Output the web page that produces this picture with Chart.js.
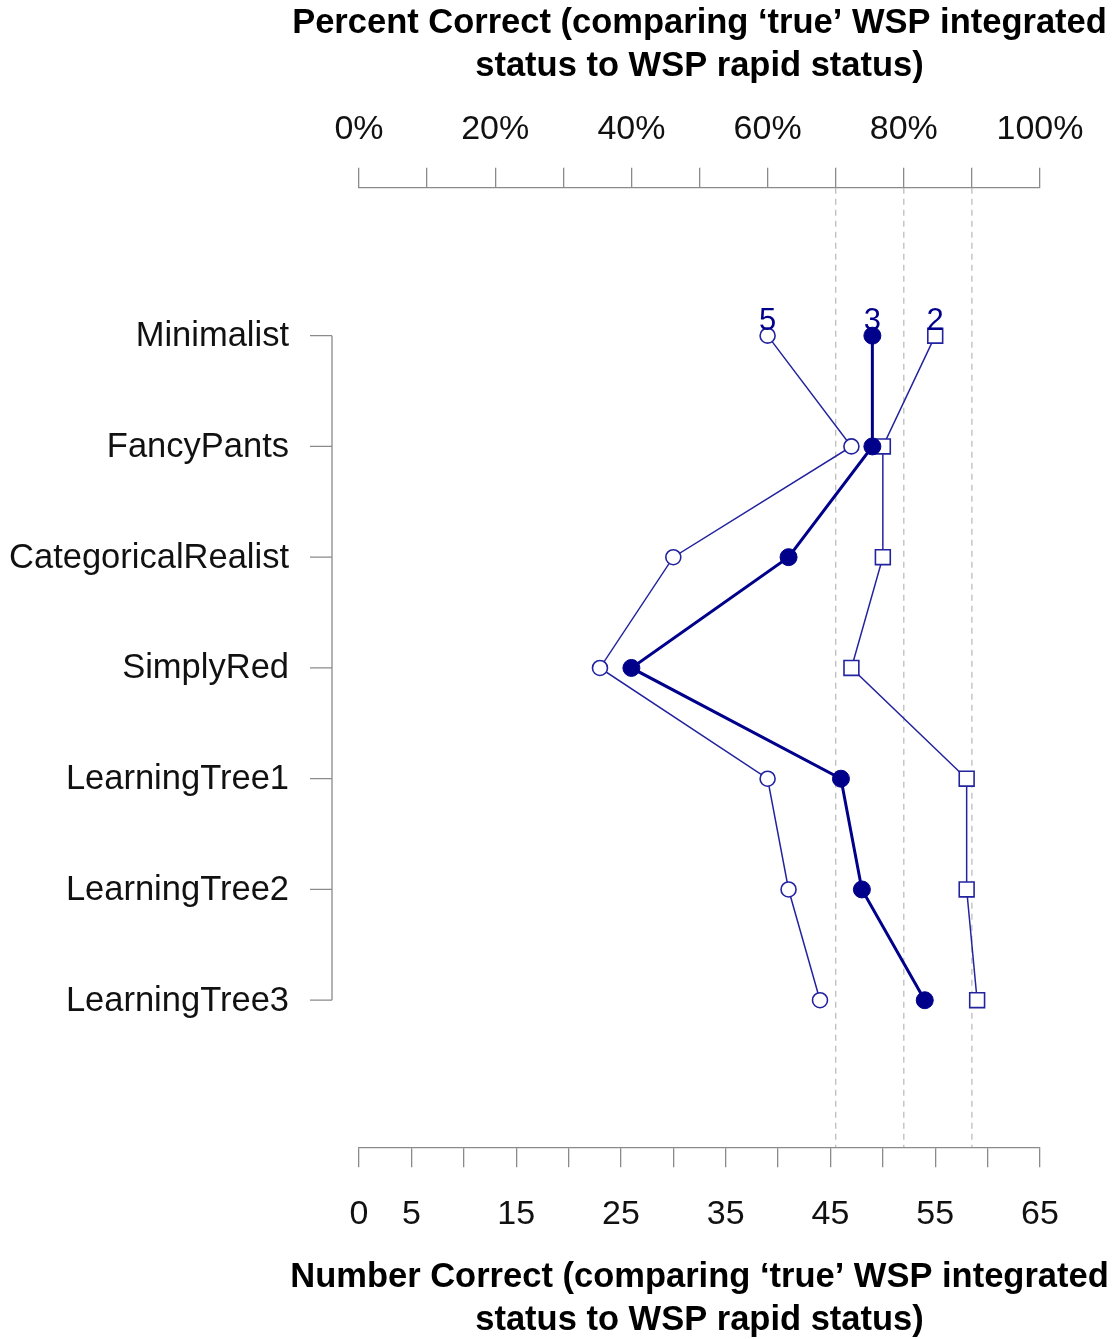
<!DOCTYPE html>
<html>
<head>
<meta charset="utf-8">
<script src="https://cdn.jsdelivr.net/npm/chart.js@4/dist/chart.umd.min.js"></script>
<style>
  html, body { margin: 0; padding: 0; background: #fff; }
  #wrap { width: 1117px; height: 1339px; }
</style>
</head>
<body>
<div id="wrap"><canvas id="chart" width="1117" height="1339"></canvas></div>
<script>
// categories, top to bottom
const categories = ['Minimalist', 'FancyPants', 'CategoricalRealist', 'SimplyRed',
    'LearningTree1', 'LearningTree2', 'LearningTree3'];

// number correct per series (labels shown above the first row)
const seriesLabels = ['3', '5', '2'];
const filledValues = [49, 49, 41, 26, 46, 48, 54];   // "3"
const circleValues = [39, 47, 30, 23, 39, 41, 44];   // "5"
const squareValues = [55, 50, 50, 47, 58, 58, 59];   // "2"

// dashed reference lines in percent of total
const totalCount = 65;
const refPercents = [70, 80, 90];

const topTitle = ['Percent Correct (comparing \u2018true\u2019 WSP integrated', 'status to WSP rapid status)'];
const bottomTitle = ['Number Correct (comparing \u2018true\u2019 WSP integrated', 'status to WSP rapid status)'];

const navy = '#00008B';
const thinBlue = '#2323a0';
const axisGrey = '#8a8a8a';
const fontFamily = '"Liberation Sans", Arial, sans-serif';

Chart.defaults.font.family = fontFamily;
Chart.defaults.color = '#000';

function toPoints(values) {
    return values.map((v, i) => ({ x: v, y: i }));
}

const yMin = -1.335;
const yMax = 7.327;

const refDatasets = refPercents.map(p => ({
    label: 'ref' + p,
    data: [{ x: p / 100 * totalCount, y: yMin }, { x: p / 100 * totalCount, y: yMax }],
    showLine: true,
    borderColor: '#bdbdbd',
    borderWidth: 1.3,
    borderDash: [6, 5],
    pointRadius: 0,
    xAxisID: 'x'
}));

// category axis drawn R-style, offset to the left of the plot
const categoryAxis = {
    id: 'categoryAxis',
    afterDraw(chart) {
        const ctx = chart.ctx;
        const y = chart.scales.y;
        const left = chart.chartArea.left;
        const lineX = left - 27;
        ctx.save();
        ctx.strokeStyle = axisGrey;
        ctx.lineWidth = 1.3;
        ctx.beginPath();
        ctx.moveTo(lineX, y.getPixelForValue(0));
        ctx.lineTo(lineX, y.getPixelForValue(categories.length - 1));
        categories.forEach((c, i) => {
            const py = y.getPixelForValue(i);
            ctx.moveTo(lineX - 22, py);
            ctx.lineTo(lineX, py);
        });
        ctx.stroke();
        ctx.fillStyle = '#111';
        ctx.font = '34.5px ' + fontFamily;
        ctx.textAlign = 'right';
        ctx.textBaseline = 'middle';
        categories.forEach((c, i) => {
            ctx.fillText(c, lineX - 43, y.getPixelForValue(i) + 1);
        });
        ctx.restore();
    }
};

// axis titles, wider than the plot so drawn here without squeezing
const axisTitles = {
    id: 'axisTitles',
    afterDraw(chart) {
        const ctx = chart.ctx;
        const area = chart.chartArea;
        const cx = (area.left + area.right) / 2;
        ctx.save();
        ctx.fillStyle = '#000';
        ctx.font = 'bold 34.5px ' + fontFamily;
        ctx.textAlign = 'center';
        ctx.textBaseline = 'middle';
        topTitle.forEach((t, i) => ctx.fillText(t, cx, area.top - 164 + i * 43));
        bottomTitle.forEach((t, i) => ctx.fillText(t, cx, area.bottom + 130 + i * 43));
        ctx.restore();
    }
};

// series labels above the first category
const seriesTags = {
    id: 'seriesTags',
    afterDatasetsDraw(chart) {
        const ctx = chart.ctx;
        const x = chart.scales.x;
        const y = chart.scales.y;
        const firsts = [filledValues[0], circleValues[0], squareValues[0]];
        ctx.save();
        ctx.fillStyle = navy;
        ctx.font = '31px ' + fontFamily;
        ctx.textAlign = 'center';
        ctx.textBaseline = 'alphabetic';
        firsts.forEach((v, i) => {
            ctx.fillText(seriesLabels[i], x.getPixelForValue(v), y.getPixelForValue(0) - 6);
        });
        ctx.restore();
    }
};

new Chart(document.getElementById('chart').getContext('2d'), {
    type: 'scatter',
    data: {
        datasets: [
            {
                label: '3',
                data: toPoints(filledValues),
                showLine: true,
                borderColor: navy,
                borderWidth: 3,
                pointStyle: 'circle',
                pointRadius: 8.5,
                pointBackgroundColor: navy,
                pointBorderColor: navy,
                pointBorderWidth: 1
            },
            {
                label: '2',
                data: toPoints(squareValues),
                showLine: true,
                borderColor: thinBlue,
                borderWidth: 1.5,
                pointStyle: 'rect',
                pointRadius: 10.5,
                pointBackgroundColor: '#fff',
                pointBorderColor: thinBlue,
                pointBorderWidth: 1.6
            },
            {
                label: '5',
                data: toPoints(circleValues),
                showLine: true,
                borderColor: thinBlue,
                borderWidth: 1.5,
                pointStyle: 'circle',
                pointRadius: 7.5,
                pointBackgroundColor: '#fff',
                pointBorderColor: thinBlue,
                pointBorderWidth: 1.6
            },
            ...refDatasets
        ]
    },
    options: {
        responsive: false,
        animation: false,
        devicePixelRatio: 1,
        layout: { padding: { left: 359, right: 77, top: 91, bottom: 77 } },
        plugins: {
            legend: { display: false },
            tooltip: { enabled: false }
        },
        scales: {
            x: {
                type: 'linear',
                position: 'bottom',
                min: 0,
                max: totalCount,
                grid: { display: true, drawOnChartArea: false, drawTicks: true, tickLength: 20, color: axisGrey, lineWidth: 1.3 },
                border: { display: true, color: axisGrey, width: 1.3 },
                ticks: {
                    stepSize: 5,
                    autoSkip: false,
                    maxRotation: 0,
                    padding: 27,
                    color: '#111',
                    font: { size: 34 },
                    callback: v => (v === 0 || v % 10 === 5) ? String(v) : ''
                }
            },
            x2: {
                type: 'linear',
                position: 'top',
                min: 0,
                max: 100,
                grid: { display: true, drawOnChartArea: false, drawTicks: true, tickLength: 20, color: axisGrey, lineWidth: 1.3 },
                border: { display: true, color: axisGrey, width: 1.3 },
                ticks: {
                    stepSize: 10,
                    autoSkip: false,
                    maxRotation: 0,
                    padding: 18,
                    color: '#111',
                    font: { size: 34 },
                    callback: v => (v % 20 === 0) ? v + '%' : ''
                }
            },
            y: {
                type: 'linear',
                reverse: true,
                min: yMin,
                max: yMax,
                display: false
            }
        }
    },
    plugins: [categoryAxis, axisTitles, seriesTags]
});
</script>
</body>
</html>
